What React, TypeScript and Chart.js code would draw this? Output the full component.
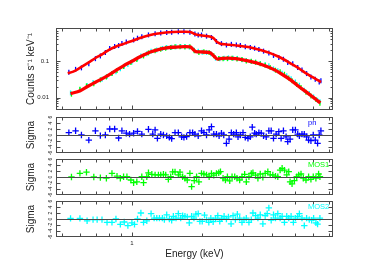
import React, { useEffect, useRef } from 'react';
import { Chart, registerables } from 'chart.js';

Chart.register(...registerables);

const FONT = "'Liberation Sans', Arial, Helvetica, sans-serif";
Chart.defaults.font.family = FONT;
Chart.defaults.color = '#222';

// ---------------- data ----------------
// axis ticks
const xTickValues = [0.5, 0.6, 0.7, 0.8, 0.9, 1, 2, 3, 4, 5, 6, 7];
const xTickLabelled = [1];
const yTickValues = [0.005, 0.006, 0.007, 0.008, 0.009, 0.01, 0.02, 0.03, 0.04, 0.05, 0.06, 0.07, 0.08, 0.09, 0.1, 0.2, 0.3, 0.4, 0.5, 0.6, 0.7, 0.8];
const yTickLabelled = [0.01, 0.1];
const sigmaTicks = [-6, -4, -2, 0, 2, 4, 6];

// spectra (counts s^-1 keV^-1)
const pnEnergy = [0.536, 0.573, 0.607, 0.653, 0.697, 0.732, 0.769, 0.803, 0.843, 0.877, 0.906, 0.946, 1.017, 1.057, 1.103, 1.178, 1.258, 1.33, 1.411, 1.482, 1.583, 1.673, 1.775, 1.865, 1.927, 1.991, 2.092, 2.197, 2.308, 2.425, 2.547, 2.675, 2.81, 2.923, 3.07, 3.225, 3.366, 3.512, 3.677, 3.876, 4.058, 4.277, 4.477, 4.672, 4.908, 5.156, 5.378, 5.63, 5.876, 6.133, 6.379, 6.486];
const pnRate = [0.05, 0.06, 0.066, 0.085, 0.118, 0.14, 0.175, 0.225, 0.255, 0.27, 0.31, 0.34, 0.385, 0.43, 0.47, 0.53, 0.57, 0.6, 0.62, 0.63, 0.65, 0.645, 0.63, 0.56, 0.53, 0.525, 0.49, 0.45, 0.35, 0.305, 0.28, 0.292, 0.282, 0.27, 0.252, 0.238, 0.228, 0.212, 0.19, 0.17, 0.145, 0.128, 0.114, 0.093, 0.085, 0.068, 0.058, 0.046, 0.037, 0.032, 0.027, 0.029];

const mos1Energy = [0.55, 0.598, 0.638, 0.686, 0.732, 0.777, 0.821, 0.863, 0.921, 0.99, 1.05, 1.122, 1.178, 1.258, 1.33, 1.397, 1.468, 1.532, 1.609, 1.69, 1.775, 1.853, 1.94, 2.038, 2.147, 2.248, 2.361, 2.464, 2.572, 2.693, 2.828, 2.971, 3.101, 3.257, 3.399, 3.559, 3.737, 3.926, 4.138, 4.333, 4.522, 4.718, 4.875, 5.105, 5.327, 5.596, 5.876, 6.173, 6.423];
const mos1Rate = [0.0125, 0.017, 0.021, 0.024, 0.031, 0.037, 0.046, 0.056, 0.072, 0.092, 0.112, 0.14, 0.17, 0.195, 0.215, 0.228, 0.24, 0.25, 0.252, 0.248, 0.25, 0.195, 0.175, 0.182, 0.175, 0.142, 0.12, 0.118, 0.118, 0.121, 0.116, 0.112, 0.102, 0.101, 0.094, 0.086, 0.078, 0.068, 0.057, 0.052, 0.044, 0.035, 0.029, 0.023, 0.019, 0.0142, 0.0112, 0.009, 0.007];

const mos2Energy = [0.545, 0.598, 0.642, 0.681, 0.744, 0.782, 0.821, 0.854, 0.892, 0.927, 0.961, 1.0, 1.057, 1.093, 1.159, 1.209, 1.279, 1.352, 1.411, 1.482, 1.547, 1.62, 1.69, 1.764, 1.847, 1.927, 2.005, 2.092, 2.183, 2.286, 2.385, 2.489, 2.598, 2.72, 2.838, 2.971, 3.101, 3.257, 3.399, 3.559, 3.737, 3.876, 4.058, 4.234, 4.419, 4.626, 4.829, 5.039, 5.242, 5.503, 5.781, 6.034, 6.276, 6.423];
const mos2Rate = [0.0135, 0.0165, 0.0215, 0.026, 0.032, 0.038, 0.046, 0.052, 0.062, 0.073, 0.082, 0.095, 0.118, 0.14, 0.16, 0.19, 0.205, 0.225, 0.238, 0.243, 0.252, 0.255, 0.255, 0.245, 0.205, 0.19, 0.178, 0.175, 0.16, 0.122, 0.118, 0.122, 0.124, 0.122, 0.12, 0.11, 0.105, 0.098, 0.094, 0.087, 0.08, 0.075, 0.062, 0.055, 0.047, 0.04, 0.033, 0.027, 0.022, 0.016, 0.013, 0.0105, 0.0085, 0.0078];

// best-fit models
const pnModelEnergy = [0.53, 0.56, 0.6, 0.65, 0.7, 0.75, 0.8, 0.86, 0.92, 1.0, 1.1, 1.2, 1.3, 1.4, 1.5, 1.6, 1.7, 1.78, 1.84, 1.9, 2.0, 2.1, 2.18, 2.25, 2.32, 2.4, 2.55, 2.7, 2.9, 3.1, 3.3, 3.6, 3.9, 4.2, 4.5, 4.8, 5.1, 5.4, 5.7, 6.0, 6.25, 6.5];
const pnModelRate = [0.047, 0.052, 0.067, 0.092, 0.125, 0.16, 0.21, 0.26, 0.3, 0.36, 0.45, 0.53, 0.58, 0.615, 0.635, 0.645, 0.645, 0.635, 0.58, 0.535, 0.51, 0.49, 0.47, 0.42, 0.34, 0.305, 0.29, 0.28, 0.265, 0.25, 0.232, 0.2, 0.17, 0.14, 0.112, 0.088, 0.07, 0.055, 0.044, 0.036, 0.031, 0.027];
const mosModelEnergy = [0.545, 0.6, 0.65, 0.7, 0.75, 0.8, 0.86, 0.92, 1.0, 1.1, 1.2, 1.3, 1.41, 1.5, 1.6, 1.7, 1.78, 1.83, 1.88, 2.0, 2.16, 2.25, 2.33, 2.45, 2.6, 2.8, 3.0, 3.4, 3.78, 4.1, 4.44, 4.8, 5.23, 5.6, 5.96, 6.2, 6.45];
const mosModelRate = [0.013, 0.0155, 0.021, 0.027, 0.034, 0.043, 0.058, 0.075, 0.1, 0.14, 0.18, 0.21, 0.232, 0.243, 0.25, 0.252, 0.248, 0.215, 0.185, 0.18, 0.172, 0.14, 0.115, 0.12, 0.122, 0.118, 0.11, 0.092, 0.073, 0.058, 0.043, 0.031, 0.02, 0.0145, 0.0107, 0.0088, 0.0072];

// residuals (sigma)
const pnResEnergy = [0.536, 0.573, 0.607, 0.653, 0.697, 0.732, 0.769, 0.803, 0.843, 0.877, 0.906, 0.946, 0.977, 1.017, 1.057, 1.103, 1.178, 1.229, 1.258, 1.287, 1.33, 1.366, 1.411, 1.449, 1.482, 1.532, 1.583, 1.636, 1.673, 1.718, 1.775, 1.823, 1.865, 1.927, 1.991, 2.038, 2.092, 2.147, 2.197, 2.248, 2.308, 2.369, 2.425, 2.481, 2.547, 2.615, 2.675, 2.737, 2.81, 2.857, 2.923, 3.001, 3.07, 3.152, 3.225, 3.289, 3.366, 3.421, 3.512, 3.594, 3.677, 3.776, 3.876, 3.966, 4.058, 4.166, 4.277, 4.375, 4.477, 4.596, 4.672, 4.781, 4.908, 5.039, 5.156, 5.242, 5.378, 5.503, 5.63, 5.743, 5.876, 6.013, 6.133, 6.276, 6.379, 6.486];
const pnResSigma = [0.8, 1.4, 0, -1.7, 1.4, -0.2, 0, 2, 2, -1, 1.4, 0.6, 0.3, 0.6, 1.2, 0.3, 1.9, 0.3, 1.7, -1.1, 0.3, 0, -0.3, -0.8, -1.2, 0.8, 0.8, -0.6, -0.8, -0.5, 0.8, 0.8, 0.3, -0.3, 1.4, 0.8, 0, 1.7, 2.8, 0.3, 0.3, -0.3, 0.6, 0, -2.8, -1.4, 0.8, 0.3, 0.8, -0.6, 0, 0.8, -0.8, -1.1, -0.6, 2.6, 0.6, 0.3, 0.8, 0.6, -0.3, -0.6, 1.4, 1.4, -1.1, 0.3, 1.1, -1.1, 1.4, -0.6, -2.2, -1.4, 1.7, 1.7, 0.3, -0.3, 0.3, 0.3, -0.6, -1.7, -1.9, 0, -1.7, -2.8, 0, 1.4];

const mos1ResEnergy = [0.55, 0.598, 0.638, 0.686, 0.732, 0.777, 0.821, 0.863, 0.892, 0.921, 0.952, 0.99, 1.017, 1.05, 1.103, 1.122, 1.159, 1.178, 1.218, 1.258, 1.3, 1.33, 1.366, 1.397, 1.434, 1.468, 1.497, 1.532, 1.583, 1.609, 1.652, 1.69, 1.729, 1.775, 1.805, 1.853, 1.896, 1.94, 1.991, 2.038, 2.092, 2.147, 2.197, 2.248, 2.308, 2.361, 2.401, 2.464, 2.522, 2.572, 2.632, 2.693, 2.765, 2.828, 2.904, 2.971, 3.05, 3.101, 3.183, 3.257, 3.311, 3.399, 3.478, 3.559, 3.653, 3.737, 3.837, 3.926, 4.031, 4.138, 4.234, 4.333, 4.419, 4.522, 4.626, 4.718, 4.781, 4.875, 4.989, 5.105, 5.206, 5.327, 5.451, 5.596, 5.743, 5.876, 6.013, 6.173, 6.339, 6.423];
const mos1ResSigma = [0, 1.2, 1.6, 0, -0.2, -0.4, 1.2, 0.3, -0.4, 0.1, 0.1, -1, -1.9, -1.6, 0.1, -1.9, 0.1, 1.4, 0.9, 0.7, 0.7, 0.7, 0.9, 0.7, -0.8, 0.1, 1.7, 1.7, 0.7, 1.6, 0.1, -0.4, -1, 1.2, -3.2, -1.2, 0.1, -1.6, 1.2, 1, 0.7, 0.1, 1.2, 0.6, 1.2, 1.4, 1.8, -0.4, -1, 0.1, -1.3, 0.1, 0.1, -0.4, -1, 0.1, 0.9, -1.6, 0.1, 1.2, 1.4, 0.6, -0.4, 1, -0.1, 1.2, 1.8, 0.7, 0.7, 0.3, 0.1, 2.3, 2.9, 2.3, 0.7, 1.8, -1.6, -2.3, -1.2, 0.1, 0.7, 1, -0.4, -1, 0.1, -0.8, 0.1, -0.4, 1, 0.1];

const mos2ResEnergy = [0.545, 0.598, 0.642, 0.681, 0.709, 0.744, 0.782, 0.821, 0.854, 0.892, 0.927, 0.961, 1.0, 1.026, 1.057, 1.093, 1.122, 1.159, 1.209, 1.246, 1.279, 1.313, 1.352, 1.379, 1.411, 1.449, 1.482, 1.507, 1.547, 1.583, 1.62, 1.652, 1.69, 1.729, 1.764, 1.805, 1.847, 1.884, 1.927, 1.959, 2.005, 2.051, 2.092, 2.14, 2.183, 2.234, 2.286, 2.339, 2.385, 2.432, 2.489, 2.547, 2.598, 2.667, 2.72, 2.783, 2.838, 2.904, 2.971, 3.03, 3.101, 3.183, 3.257, 3.311, 3.399, 3.478, 3.559, 3.653, 3.737, 3.812, 3.876, 3.966, 4.058, 4.138, 4.234, 4.333, 4.419, 4.522, 4.626, 4.718, 4.829, 4.94, 5.039, 5.156, 5.242, 5.378, 5.503, 5.63, 5.781, 5.916, 6.034, 6.173, 6.276, 6.423];
const mos2ResSigma = [0.2, 0.2, -0.6, -0.2, -0.2, -0.2, -1.1, -1.1, 0, -1.8, -1, -2.2, -1.3, -1.8, 0, 2, -1.1, -0.6, 1.8, 0.3, 0.3, 0.3, 0.3, -0.2, 1.4, 0, -0.4, 0.9, 0.3, 1.8, 0.3, 1.1, 0.9, 0.7, -1.3, 0.9, 0.3, 1.6, 1.8, -0.8, -0.8, 1.3, -0.2, -1.1, 0.3, -0.9, 0.3, 1.1, -0.8, 0.3, 0.9, 0, 0.7, -1.6, 1.1, -0.2, 1.6, 0.3, -1.1, -0.2, 0.3, -1.1, -0.2, 2, 1.1, 0.3, 1.4, -1.6, 1.1, 1.8, 3.7, -0.4, 1.4, 0.3, 1.8, 0.3, 0.9, -1.1, 0.9, 0.3, 0.9, -1.1, 0.3, 0.9, 1.8, 0.3, -2.2, 0.3, -0.2, -0.4, 0.3, -1.3, -1.7, 0.3];

// ---------------- styling ----------------
const BLUE = '#0000ff';
const GREEN = '#00ff00';
const CYAN = '#00ffff';
const RED = '#ff0000';
const FRAME = '#4a4a4a';
const X_MIN = 0.472;
const X_MAX = 7.31;

const pts = (xs: number[], ys: number[]) => xs.map((x, i) => ({ x, y: ys[i] }));

type FrameCfg = {
  xMajor: number[];
  yMajor: number[];
  zero?: boolean;
  sigmaLabels?: boolean;
  tag?: { text: string; color: string };
};

function makeFrame(cfg: FrameCfg) {
  return {
    id: 'frame',
    afterDraw(chart: any) {
      const { ctx, chartArea: a } = chart;
      const xs = chart.scales.x;
      const ys = chart.scales.y;
      const L = Math.round(a.left) + 0.5;
      const R = Math.round(a.right) - 0.5;
      const T = Math.round(a.top) + 0.5;
      const B = Math.round(a.bottom) - 0.5;
      ctx.save();
      ctx.strokeStyle = FRAME;
      ctx.lineWidth = 1;
      ctx.beginPath();
      if (cfg.zero) {
        const y0 = Math.round(ys.getPixelForValue(0)) + 0.5;
        ctx.moveTo(L, y0);
        ctx.lineTo(R, y0);
      }
      for (const t of xs.ticks) {
        const px = Math.round(xs.getPixelForValue(t.value)) + 0.5;
        if (px <= L + 1 || px >= R - 1) continue;
        const len = cfg.xMajor.includes(t.value) ? 4 : 3;
        ctx.moveTo(px, B);
        ctx.lineTo(px, B - len);
        ctx.moveTo(px, T);
        ctx.lineTo(px, T + len);
      }
      for (const t of ys.ticks) {
        const py = Math.round(ys.getPixelForValue(t.value)) + 0.5;
        if (py <= T + 1 || py >= B - 1) continue;
        const len = cfg.yMajor.includes(t.value) ? 4 : 2;
        ctx.moveTo(L, py);
        ctx.lineTo(L + len, py);
        ctx.moveTo(R, py);
        ctx.lineTo(R - len, py);
      }
      ctx.stroke();
      ctx.strokeRect(L, T, R - L, B - T);
      if (cfg.sigmaLabels) {
        ctx.fillStyle = '#222';
        ctx.font = `5px ${FONT}`;
        ctx.textAlign = 'center';
        ctx.textBaseline = 'middle';
        for (const t of ys.ticks) {
          const py = ys.getPixelForValue(t.value);
          ctx.save();
          ctx.translate(a.left - 5.5, py);
          ctx.rotate(-Math.PI / 2);
          ctx.fillText(String(t.value), 0, 0);
          ctx.restore();
        }
      }
      if (cfg.tag) {
        ctx.fillStyle = cfg.tag.color;
        ctx.font = `7.5px ${FONT}`;
        ctx.textAlign = 'left';
        ctx.textBaseline = 'middle';
        ctx.fillText(cfg.tag.text, 308, a.top + 6);
      }
      ctx.restore();
    },
  };
}

function xScale(show: boolean) {
  return {
    type: 'logarithmic',
    min: X_MIN,
    max: X_MAX,
    afterBuildTicks: (s: any) => {
      s.ticks = xTickValues.map((v) => ({ value: v }));
    },
    afterFit: (s: any) => {
      s.height = show ? 27 : 0;
    },
    grid: { display: false, drawTicks: false },
    border: { display: false },
    ticks: {
      display: show,
      autoSkip: false,
      minRotation: 0,
      maxRotation: 0,
      padding: 3,
      font: { size: 6 },
      color: '#222',
      callback: (v: number) => (xTickLabelled.includes(v) ? String(v) : ''),
    },
    title: {
      display: show,
      text: 'Energy (keV)',
      font: { size: 10 },
      color: '#222',
      padding: { top: 0, bottom: 4 },
    },
  };
}

function spectrumConfig(): any {
  const dataStyle = (color: string) => ({
    type: 'scatter',
    showLine: false,
    pointStyle: 'line',
    pointRotation: 90,
    pointRadius: 2.5,
    pointBorderWidth: 1.3,
    pointBorderColor: color,
    pointBackgroundColor: color,
    borderColor: color,
    order: 1,
  });
  const modelStyle = (w: number) => ({
    type: 'line',
    showLine: true,
    pointRadius: 0,
    borderColor: RED,
    borderWidth: w,
    cubicInterpolationMode: 'monotone',
    fill: false,
    order: 0,
  });
  return {
    type: 'scatter',
    data: {
      datasets: [
        { label: 'pn', data: pts(pnEnergy, pnRate), ...dataStyle(BLUE) },
        { label: 'MOS1', data: pts(mos1Energy, mos1Rate), ...dataStyle(GREEN) },
        { label: 'MOS2', data: pts(mos2Energy, mos2Rate), ...dataStyle(CYAN) },
        { label: 'pn model', data: pts(pnModelEnergy, pnModelRate), ...modelStyle(2.6) },
        { label: 'MOS model', data: pts(mosModelEnergy, mosModelRate), ...modelStyle(3.3) },
      ],
    },
    options: {
      responsive: false,
      animation: false,
      events: [],
      layout: { padding: { left: 21, right: 39, top: 28, bottom: 169 } },
      plugins: { legend: { display: false }, tooltip: { enabled: false } },
      scales: {
        x: xScale(false),
        y: {
          type: 'logarithmic',
          min: 0.0046,
          max: 0.82,
          afterBuildTicks: (s: any) => {
            s.ticks = yTickValues.map((v) => ({ value: v }));
          },
          afterFit: (s: any) => {
            s.width = 35;
          },
          grid: { display: false, drawTicks: false },
          border: { display: false },
          ticks: {
            autoSkip: false,
            padding: 7,
            font: { size: 6 },
            color: '#222',
            callback: (v: number) => (yTickLabelled.includes(v) ? String(v) : ''),
          },
          title: {
            display: true,
            text: 'Counts s\u207B\u00B9 keV\u207B\u00B9',
            font: { size: 10 },
            color: '#222',
            padding: { top: 4, bottom: 0 },
          },
        },
      },
    },
    plugins: [makeFrame({ xMajor: [1], yMajor: [0.01, 0.1] })],
  };
}

function residualConfig(
  energy: number[],
  sigma: number[],
  color: string,
  tag: string,
  top: number,
  bottom: number,
  showX: boolean
): any {
  return {
    type: 'scatter',
    data: {
      datasets: [
        {
          label: tag,
          data: pts(energy, sigma),
          pointStyle: 'cross',
          pointRadius: 3.2,
          pointBorderWidth: 1.3,
          pointBorderColor: color,
          pointBackgroundColor: color,
          borderColor: color,
        },
      ],
    },
    options: {
      responsive: false,
      animation: false,
      events: [],
      layout: { padding: { left: 21, right: 39, top, bottom } },
      plugins: { legend: { display: false }, tooltip: { enabled: false } },
      scales: {
        x: xScale(showX),
        y: {
          type: 'linear',
          min: -6,
          max: 6,
          afterBuildTicks: (s: any) => {
            s.ticks = sigmaTicks.map((v) => ({ value: v }));
          },
          afterFit: (s: any) => {
            s.width = 35;
          },
          grid: { display: false, drawTicks: false },
          border: { display: false },
          ticks: { display: false },
          title: {
            display: true,
            text: 'Sigma',
            font: { size: 10 },
            color: '#222',
            padding: { top: 4, bottom: 0 },
          },
        },
      },
    },
    plugins: [
      makeFrame({ xMajor: [1], yMajor: sigmaTicks, zero: true, sigmaLabels: true, tag: { text: tag, color } }),
    ],
  };
}

export default function App() {
  const r1 = useRef<HTMLCanvasElement>(null);
  const r2 = useRef<HTMLCanvasElement>(null);
  const r3 = useRef<HTMLCanvasElement>(null);
  const r4 = useRef<HTMLCanvasElement>(null);

  useEffect(() => {
    const charts = [
      new Chart(r1.current as HTMLCanvasElement, spectrumConfig()),
      new Chart(r2.current as HTMLCanvasElement, residualConfig(pnResEnergy, pnResSigma, BLUE, 'pn', 117, 126, false)),
      new Chart(r3.current as HTMLCanvasElement, residualConfig(mos1ResEnergy, mos1ResSigma, GREEN, 'MOS1', 159, 84, false)),
      new Chart(r4.current as HTMLCanvasElement, residualConfig(mos2ResEnergy, mos2ResSigma, CYAN, 'MOS2', 201, 15, true)),
    ];
    return () => charts.forEach((c) => c.destroy());
  }, []);

  const cs: React.CSSProperties = { position: 'absolute', left: 0, top: 0 };
  return (
    <div style={{ position: 'absolute', left: 0, top: 0, width: 372, height: 279, background: '#fff' }}>
      <canvas ref={r1} width={372} height={279} style={cs} />
      <canvas ref={r2} width={372} height={279} style={cs} />
      <canvas ref={r3} width={372} height={279} style={cs} />
      <canvas ref={r4} width={372} height={279} style={cs} />
    </div>
  );
}
